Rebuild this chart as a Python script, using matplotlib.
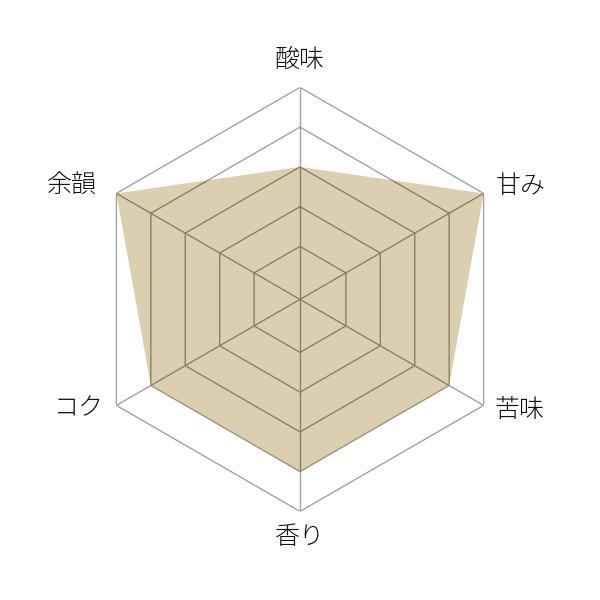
import numpy as np
import matplotlib
matplotlib.use("Agg")
import matplotlib.pyplot as plt

categories = ["酸味", "甘み", "苦味", "香り", "コク", "余韻"]
values = [3, 5, 4, 4, 4, 5]
levels = [1, 2, 3, 4, 5]
r_min = -1 / 3
r_max = 5

plt.rcParams['font.family'] = ['Noto Sans CJK JP', 'DejaVu Sans']

fig = plt.figure(figsize=(6, 6), dpi=100)
s = 0.7067
ax = fig.add_axes([0.5 - s / 2, 0.5 - s / 2 + 0.001, s, s], projection='polar')
ax.set_theta_zero_location('N')
ax.set_theta_direction(-1)
ax.set_ylim(r_min, r_max)
ax.grid(False)
ax.set_xticks([])
ax.set_yticks([])
ax.spines['polar'].set_visible(False)
ax.patch.set_alpha(0)

n = len(categories)
theta = np.deg2rad(np.arange(n) * 360 / n)
theta_c = np.append(theta, theta[0])

gray = '#a3a3a3'
brown = '#8c7e64'
fill_col = '#dccfb1'

def draw_grid(color, z):
    lines = []
    for lv in levels:
        lines += ax.plot(theta_c, [lv] * (n + 1), color=color, lw=1.0, zorder=z)
    for t in theta:
        lines += ax.plot([t, t], [r_min, r_max], color=color, lw=1.0, zorder=z)
    return lines

draw_grid(gray, 1)
vals_c = values + values[:1]
poly = ax.fill(theta_c, vals_c, color=fill_col, lw=0, zorder=2)[0]
for ln in draw_grid(brown, 3):
    ln.set_clip_path(poly)

offsets = [(0, 28, 'center', 'center'),
           (12, 8, 'left', 'center'),
           (11, -4, 'left', 'center'),
           (0, -25, 'center', 'center'),
           (-13, -3, 'right', 'center'),
           (-20, 8, 'right', 'center')]
for t, lab, (dx, dy, ha, va) in zip(theta, categories, offsets):
    ax.annotate(lab, xy=(t, r_max), xytext=(dx, dy), textcoords='offset pixels',
                ha=ha, va=va, fontsize=18, fontweight='light', color='#111111',
                annotation_clip=False)

fig.savefig('out.png', dpi=100, facecolor='white')
